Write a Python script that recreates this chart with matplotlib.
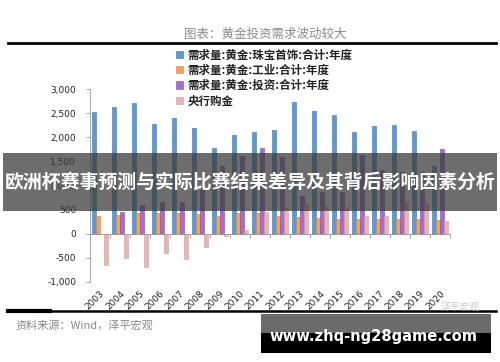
import matplotlib
matplotlib.use("Agg")
import matplotlib.pyplot as plt
from matplotlib.patches import Rectangle
from matplotlib.ticker import FuncFormatter
import numpy as np

plt.rcParams['font.family'] = ['Noto Sans CJK SC', 'DejaVu Sans']

# Data
years = ["2003", "2004", "2005", "2006", "2007", "2008", "2009", "2010", "2011",
         "2012", "2013", "2014", "2015", "2016", "2017", "2018", "2019", "2020"]
jewelry = [2527, 2631, 2714, 2285, 2402, 2187, 1785, 2056, 2111,
           2160, 2736, 2542, 2472, 2111, 2243, 2257, 2132, 1403]
industry = [375, 396, 423, 431, 431, 417, 375, 423, 423,
            361, 347, 326, 306, 306, 306, 313, 306, 285]
investment = [0, 458, 597, 653, 653, 900, 1396, 1604, 1780,
              1590, 792, 861, 861, 1625, 1312, 1271, 1278, 1765]
central_bank = [-646, -507, -688, -389, -528, -271, -55, 77, 444,
                549, 625, 583, 562, 378, 372, 650, 640, 257]

labels = ["需求量:黄金:珠宝首饰:合计:年度", "需求量:黄金:工业:合计:年度",
          "需求量:黄金:投资:合计:年度", "央行购金"]
colors = ["#5B9BD5", "#F4A15D", "#A86CD0", "#E8B4B4"]
edges = ["#3F77AA", "#D9823E", "#7E48A6", "#D99A9A"]

fig = plt.figure(figsize=(5.0, 3.62), dpi=100)
ax = fig.add_axes([0.18, 0.221, 0.72, 0.533])

x = np.arange(len(years))
w = 0.17
series = [jewelry, industry, investment, central_bank]
offsets = [-0.3, -0.1, 0.1, 0.3]
for vals, off, c, ec, lab in zip(series, offsets, colors, edges, labels):
    ax.bar(x + off, vals, width=w, color=c, edgecolor=ec, linewidth=0.4, label=lab)

ax.set_xlim(-0.5, len(years) - 0.5)
ax.set_ylim(-1000, 3000)
ax.set_yticks(np.arange(-1000, 3001, 500))
ax.yaxis.set_major_formatter(FuncFormatter(lambda v, p: f"{int(v):,}"))
ax.tick_params(axis="y", labelsize=6.5, length=3, width=0.6, color="#999999",
               pad=7, labelcolor="#222222")
for lab in ax.get_yticklabels():
    lab.set_family("DejaVu Sans")

for s in ["top", "right"]:
    ax.spines[s].set_visible(False)
ax.spines["left"].set_color("#999999")
ax.spines["left"].set_linewidth(0.6)
ax.spines["bottom"].set_position(("data", 0))
ax.spines["bottom"].set_color("#999999")
ax.spines["bottom"].set_linewidth(0.6)
ax.set_xticks(x)
ax.set_xticks(np.arange(-0.5, len(years), 1), minor=True)
ax.tick_params(axis="x", which="major", length=0, labelbottom=False)
ax.tick_params(axis="x", which="minor", length=3, width=0.6, color="#999999")

sec = ax.secondary_xaxis(0)
sec.set_xticks(x)
sec.set_xticklabels(years, rotation=45, ha="right", rotation_mode="anchor",
                    fontsize=6.5, family="DejaVu Sans", color="#222222")
sec.tick_params(length=0, pad=5)
sec.spines["bottom"].set_visible(False)

leg = ax.legend(loc="upper left", bbox_to_anchor=(0.24, 1.21), frameon=False,
                fontsize=8.3, handlelength=0.6, handleheight=0.6, handletextpad=0.35,
                labelspacing=0.2, borderaxespad=0, borderpad=0)
for t in leg.get_texts():
    t.set_fontweight("bold")
    t.set_color("#222222")

# header and footer
fig.text(0.53, 0.905, "图表：黄金投资需求波动较大", ha="center", va="center",
         fontsize=9, color="#8a8a8a")
fig.add_artist(plt.Line2D([0.016, 0.992], [0.881, 0.881], color="black", lw=2))
fig.add_artist(plt.Line2D([0.016, 0.992], [0.141, 0.141], color="black", lw=1.8))
fig.add_artist(plt.Line2D([0.016, 0.1], [0.141, 0.141], color="black", lw=3))
fig.text(0.03, 0.102, "资料来源：Wind，泽平宏观", ha="left", va="center",
         fontsize=8, color="#888888", style="italic")
fig.text(0.96, 0.152, "泽平宏观", ha="right", va="center", fontsize=7,
         color="#cccccc")

# overlays
fig.add_artist(Rectangle((0.006, 0.417), 0.988, 0.16, transform=fig.transFigure,
                         facecolor="#3c3c3c", alpha=0.75, edgecolor="none"))
fig.text(0.5, 0.497, "欧洲杯赛事预测与实际比赛结果差异及其背后影响因素分析",
         ha="center", va="center", fontsize=13.6, color="white", fontweight="bold")
fig.add_artist(Rectangle((0.522, 0.08), 0.46, 0.052, transform=fig.transFigure,
                         facecolor="#6b6b6b", edgecolor="none"))
fig.add_artist(Rectangle((0.522, 0.026), 0.46, 0.055, transform=fig.transFigure,
                         facecolor="black", edgecolor="none"))
fig.text(0.746, 0.07, "www.zhq-ng28game.com", ha="center", va="center",
         fontsize=10.6, color="white", fontweight="bold", family="DejaVu Sans")

fig.savefig("out.png", dpi=100)
